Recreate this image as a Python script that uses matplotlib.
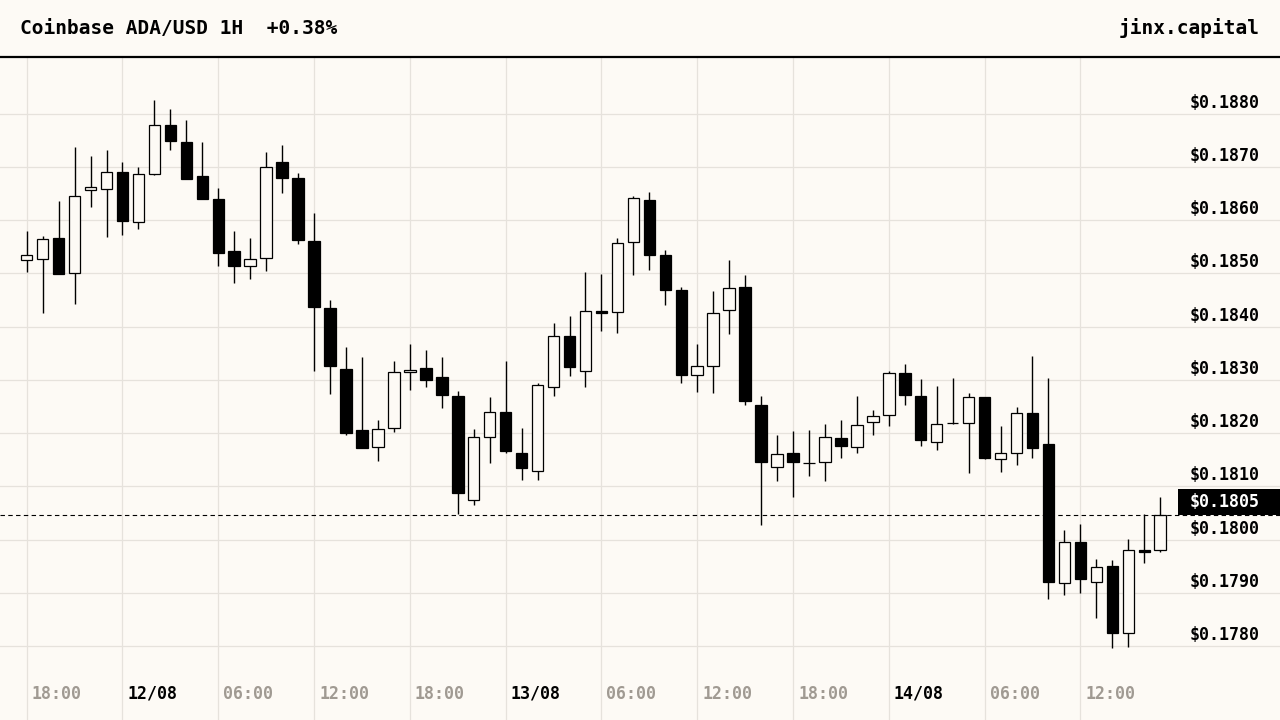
import matplotlib.pyplot as plt
import matplotlib.transforms as mtransforms
from matplotlib.lines import Line2D
from matplotlib.patches import Rectangle
import numpy as np
import pandas as pd

# hourly candles, Coinbase ADA/USD, first one is 11/08 18:00
opens = [0.18524, 0.18527, 0.18567, 0.18501, 0.18657, 0.18659, 0.18691, 0.18597, 0.18687, 0.18779,
         0.18746, 0.18682, 0.18640, 0.18541, 0.18514, 0.18529, 0.18708, 0.18679, 0.18561, 0.18435,
         0.18321, 0.18205, 0.18173, 0.18210, 0.18314, 0.18322, 0.18305, 0.18270, 0.18075, 0.18193,
         0.18240, 0.18163, 0.18129, 0.18287, 0.18383, 0.18317, 0.18430, 0.18428, 0.18559, 0.18637,
         0.18535, 0.18468, 0.18309, 0.18326, 0.18431, 0.18475, 0.18253, 0.18137, 0.18163, 0.18144,
         0.18145, 0.18190, 0.18173, 0.18220, 0.18233, 0.18312, 0.18270, 0.18184, 0.18218, 0.18218,
         0.18267, 0.18152, 0.18163, 0.18237, 0.18179, 0.17918, 0.17995, 0.17920, 0.17951, 0.17824,
         0.17980, 0.17981]
highs = [0.18579, 0.18570, 0.18635, 0.18738, 0.18721, 0.18731, 0.18708, 0.18699, 0.18826, 0.18809,
         0.18787, 0.18747, 0.18661, 0.18579, 0.18567, 0.18728, 0.18740, 0.18689, 0.18614, 0.18450,
         0.18361, 0.18342, 0.18224, 0.18335, 0.18367, 0.18355, 0.18342, 0.18278, 0.18207, 0.18267,
         0.18335, 0.18210, 0.18293, 0.18407, 0.18419, 0.18502, 0.18498, 0.18567, 0.18646, 0.18652,
         0.18544, 0.18475, 0.18368, 0.18466, 0.18524, 0.18496, 0.18269, 0.18196, 0.18203, 0.18205,
         0.18217, 0.18224, 0.18269, 0.18243, 0.18316, 0.18329, 0.18301, 0.18288, 0.18303, 0.18275,
         0.18267, 0.18213, 0.18248, 0.18344, 0.18303, 0.18018, 0.18029, 0.17963, 0.17961, 0.18001,
         0.18048, 0.18079]
lows = [0.18502, 0.18425, 0.18499, 0.18442, 0.18624, 0.18568, 0.18572, 0.18583, 0.18684, 0.18731,
        0.18677, 0.18639, 0.18514, 0.18482, 0.18489, 0.18504, 0.18650, 0.18555, 0.18317, 0.18273,
        0.18197, 0.18171, 0.18148, 0.18202, 0.18281, 0.18286, 0.18247, 0.18048, 0.18065, 0.18144,
        0.18163, 0.18112, 0.18112, 0.18270, 0.18307, 0.18287, 0.18392, 0.18388, 0.18497, 0.18506,
        0.18440, 0.18294, 0.18277, 0.18275, 0.18385, 0.18253, 0.18027, 0.18110, 0.18080, 0.18120,
        0.18110, 0.18153, 0.18163, 0.18196, 0.18213, 0.18253, 0.18176, 0.18169, 0.18217, 0.18125,
        0.18151, 0.18127, 0.18140, 0.18153, 0.17889, 0.17896, 0.17900, 0.17852, 0.17796, 0.17798,
        0.17956, 0.17976]
closes = [0.18535, 0.18565, 0.18499, 0.18646, 0.18662, 0.18691, 0.18598, 0.18687, 0.18779, 0.18748,
          0.18677, 0.18639, 0.18538, 0.18514, 0.18527, 0.18700, 0.18679, 0.18562, 0.18437, 0.18326,
          0.18200, 0.18171, 0.18208, 0.18314, 0.18319, 0.18300, 0.18271, 0.18088, 0.18192, 0.18240,
          0.18166, 0.18135, 0.18291, 0.18383, 0.18324, 0.18430, 0.18425, 0.18557, 0.18642, 0.18534,
          0.18468, 0.18309, 0.18325, 0.18426, 0.18473, 0.18260, 0.18145, 0.18160, 0.18145, 0.18143,
          0.18192, 0.18176, 0.18215, 0.18231, 0.18312, 0.18271, 0.18187, 0.18216, 0.18218, 0.18268,
          0.18153, 0.18162, 0.18238, 0.18172, 0.17921, 0.17995, 0.17926, 0.17948, 0.17825, 0.17980,
          0.17976, 0.18046]

price_levels = [0.1780, 0.1790, 0.1800, 0.1810, 0.1820, 0.1830, 0.1840, 0.1850, 0.1860, 0.1870, 0.1880]
start_time = '2023-08-11 18:00'
title = 'Coinbase ADA/USD 1H  +0.38%'
brand = 'jinx.capital'

BG = '#fdfaf5'
GRID = '#e6e2dc'
GRAY = '#a09a92'
MONO = 'DejaVu Sans Mono'

W, H = 1280, 720
HEADER = 58  # px taken by the title strip

times = pd.date_range(start_time, periods=len(opens), freq='h')
x = np.arange(len(opens))
o = np.array(opens)
c = np.array(closes)

fig = plt.figure(figsize=(12.8, 7.2), dpi=100, facecolor=BG)
ax = fig.add_axes([0, 0, 1, (H - HEADER) / H])
ax.set_facecolor(BG)
for s in ax.spines.values():
    s.set_visible(False)
ax.set_xticks([])
ax.set_yticks([])

# 16 px per hour, first candle at x=26.7 px
hour_px = 15.965
ax.set_xlim(-26.7 / hour_px, (W - 26.7) / hour_px)
# 0.001 per 53.25 px, 0.1880 line at y=113.5 px
px_per_unit = 53250
ymax = 0.1880 + (113.5 - HEADER) / px_per_unit
ymin = 0.1880 - (H - 113.5) / px_per_unit
ax.set_ylim(ymin, ymax)

# grid
tick_idx = [i for i in range(len(times)) if times[i].hour % 6 == 0]
for i in tick_idx:
    ax.axvline(i, color=GRID, lw=0.9, zorder=0)
for lvl in price_levels:
    ax.axhline(lvl, color=GRID, lw=0.9, zorder=0)

# candles
ax.vlines(x, lows, highs, color='black', lw=1.0, zorder=2)
fills = ['black' if cc < oo else BG for oo, cc in zip(o, c)]
ax.bar(x, np.abs(c - o), bottom=np.minimum(o, c), width=0.72,
       color=fills, edgecolor='black', linewidth=0.9, zorder=3)

# price labels on the right
yblend = mtransforms.blended_transform_factory(ax.transAxes, ax.transData)
lab_tr = mtransforms.offset_copy(yblend, fig=fig, x=0, y=2, units='dots')
for lvl in price_levels:
    ax.text(1260 / W, lvl, f'${lvl:.4f}', transform=lab_tr, ha='right', va='bottom',
            fontsize=12, fontweight='bold', family=MONO, zorder=5)

# last price line + tag
last = closes[-1]
ax.axhline(last, color='black', lw=0.8, ls=(0, (4, 3)), zorder=4)
box_h = 26 / px_per_unit
ax.add_patch(Rectangle((1178 / W, last), (W - 1178) / W, box_h, transform=yblend,
                       facecolor='black', edgecolor='none', zorder=6))
tag_tr = mtransforms.offset_copy(yblend, fig=fig, x=0, y=4, units='dots')
ax.text(1260 / W, last, f'${last:.4f}', transform=tag_tr, ha='right', va='bottom',
        fontsize=12, fontweight='bold', family=MONO, color='white', zorder=7)

# time labels
xblend = mtransforms.blended_transform_factory(ax.transData, ax.transAxes)
time_tr = mtransforms.offset_copy(xblend, fig=fig, x=5, y=0, units='dots')
for i in tick_idx:
    t = times[i]
    if t.hour == 0:
        txt, col = t.strftime('%d/%m'), 'black'
    else:
        txt, col = t.strftime('%H:%M'), GRAY
    ax.text(i, 26 / (H - HEADER), txt, transform=time_tr, ha='left', va='center',
            fontsize=12, fontweight='bold', family=MONO, color=col, zorder=5)

# header
fig.text(20 / W, 1 - 28 / H, title, ha='left', va='center', fontsize=14,
         fontweight='bold', family=MONO)
fig.text(1260 / W, 1 - 28 / H, brand, ha='right', va='center', fontsize=14,
         fontweight='bold', family=MONO)
fig.add_artist(Line2D([0, 1], [1 - 57 / H, 1 - 57 / H], color='black', lw=1.6,
                      transform=fig.transFigure))

fig.savefig('out.png', dpi=100, facecolor=BG)
